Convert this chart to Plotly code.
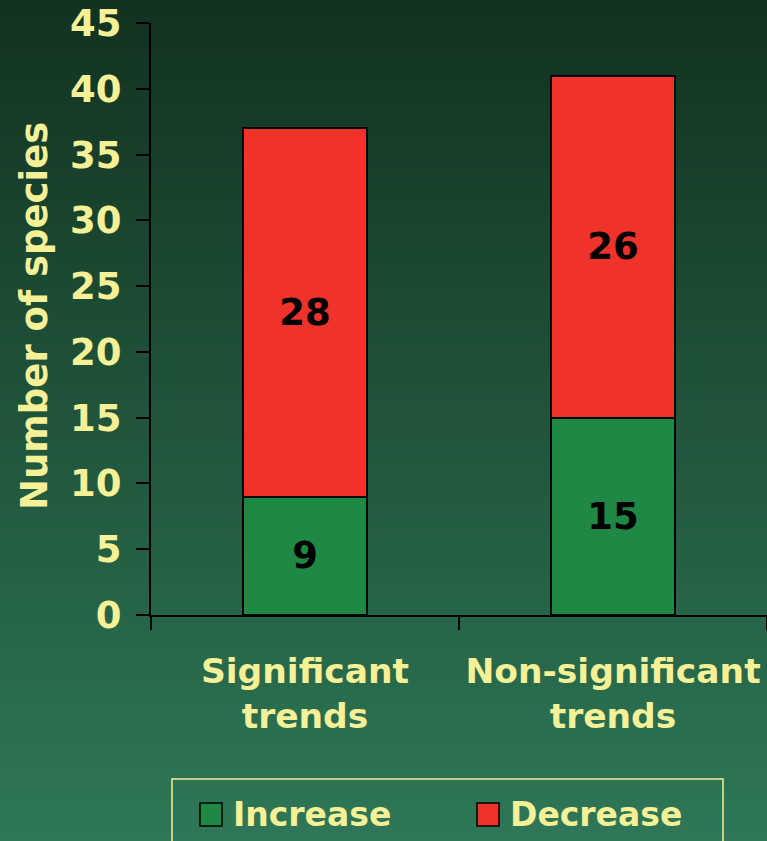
import plotly.graph_objects as go

categories = ["Significant<br>trends", "Non-significant<br>trends"]
increase = [9, 15]
decrease = [28, 26]
series_names = ["Increase", "Decrease"]
y_ticks = [0, 5, 10, 15, 20, 25, 30, 35, 40, 45]

GREEN = "#1E8844"
RED = "#EF332B"
YELLOW = "#F6F097"
FONT = "DejaVu Sans"

W, H = 767, 841
L, R, T, B = 151, 0, 23, 226
PW, PH = W - L - R, H - T - B

def px_x(p):
    return (p - L) / PW

def px_y(p):
    return (H - B - p) / PH

fig = go.Figure()
fig.add_trace(go.Bar(
    x=categories, y=increase, name=series_names[0],
    marker=dict(color=GREEN, line=dict(color="black", width=1.8)),
    width=0.405, text=[str(v) for v in increase], textposition="inside",
    insidetextanchor="middle", textangle=0,
    textfont=dict(family=FONT, size=37, color="black", weight="bold"),
    showlegend=False, hoverinfo="skip"))
fig.add_trace(go.Bar(
    x=categories, y=decrease, name=series_names[1],
    marker=dict(color=RED, line=dict(color="black", width=1.8)),
    width=0.405, text=[str(v) for v in decrease], textposition="inside",
    insidetextanchor="middle", textangle=0,
    textfont=dict(family=FONT, size=37, color="black", weight="bold"),
    showlegend=False, hoverinfo="skip"))

# gradient background stripes
shapes = []
top_rgb = (18, 50, 32)
bot_rgb = (46, 119, 87)
N = 120
for i in range(N):
    t = i / (N - 1)
    c = tuple(round(top_rgb[k] + (bot_rgb[k] - top_rgb[k]) * t) for k in range(3))
    y0 = i * H / N
    y1 = (i + 1) * H / N + 1
    shapes.append(dict(type="rect", xref="paper", yref="paper",
                       x0=px_x(-2), x1=px_x(W + 2), y0=px_y(y1), y1=px_y(y0),
                       fillcolor="rgb(%d,%d,%d)" % c, line=dict(width=0), layer="below"))

# legend (manual, to get large swatches)
shapes.append(dict(type="rect", xref="paper", yref="paper",
                   x0=px_x(172), x1=px_x(723), y0=px_y(850), y1=px_y(779),
                   fillcolor="rgba(0,0,0,0)", line=dict(color=YELLOW, width=1.5)))
for (x0, col) in [(200, GREEN), (477, RED)]:
    shapes.append(dict(type="rect", xref="paper", yref="paper",
                       x0=px_x(x0), x1=px_x(x0 + 22), y0=px_y(826), y1=px_y(803),
                       fillcolor=col, line=dict(color="black", width=1.5)))

annotations = [
    dict(text="Number of species", xref="paper", yref="paper",
         x=px_x(34), y=px_y(316), textangle=-90, showarrow=False,
         font=dict(family=FONT, size=37, color=YELLOW, weight="bold"),
         xanchor="center", yanchor="middle"),
    dict(text=series_names[0], xref="paper", yref="paper",
         x=px_x(231), y=px_y(814), showarrow=False, xanchor="left", yanchor="middle",
         font=dict(family=FONT, size=33, color=YELLOW, weight="bold")),
    dict(text=series_names[1], xref="paper", yref="paper",
         x=px_x(508), y=px_y(814), showarrow=False, xanchor="left", yanchor="middle",
         font=dict(family=FONT, size=33, color=YELLOW, weight="bold")),
]

fig.update_layout(
    width=W, height=H, barmode="stack",
    margin=dict(l=L, r=R, t=T, b=B, autoexpand=False),
    paper_bgcolor="rgb(46,119,87)", plot_bgcolor="rgba(0,0,0,0)",
    shapes=shapes, annotations=annotations,
    font=dict(family=FONT, color=YELLOW),
    xaxis=dict(range=[-0.5, 1.5], tickson="boundaries", ticks="outside", ticklen=13,
               tickwidth=2, tickcolor="black", showline=True, linecolor="black",
               linewidth=2, showgrid=False, zeroline=False, automargin=False,
               ticklabelstandoff=25, tickangle=0,
               tickfont=dict(family=FONT, size=34.5, color=YELLOW, weight="bold")),
    yaxis=dict(range=[0, 45], tickvals=y_ticks, ticks="outside", ticklen=13,
               tickwidth=2, tickcolor="black", showline=True, linecolor="black",
               linewidth=2, showgrid=False, zeroline=False, automargin=False,
               ticklabelstandoff=7,
               tickfont=dict(family=FONT, size=37, color=YELLOW, weight="bold")),
)

fig.write_html("out.html", config={"displayModeBar": False},
               post_script="document.body.style.margin='0';document.body.style.padding='0';")
